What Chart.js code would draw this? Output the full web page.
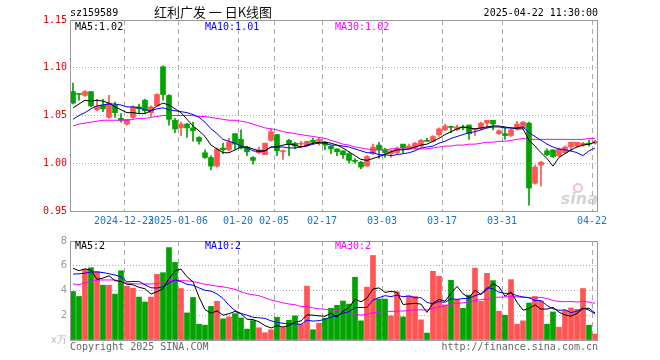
<!DOCTYPE html>
<html>
<head>
<meta charset="utf-8">
<script src="https://cdn.jsdelivr.net/npm/chart.js@4.4.1/dist/chart.umd.min.js"></script>
<style>
    body { margin: 0; background: #fff; }
    #wrap { position: relative; width: 660px; height: 360px; }
    canvas { position: absolute; left: 0; }
</style>
</head>
<body>
<div id="wrap">
    <canvas id="kline" width="660" height="232" style="top:0"></canvas>
    <canvas id="vol" width="660" height="128" style="top:232px"></canvas>
</div>
<script>
// trading days shown on the chart
const dates = [
    '2024-12-10','2024-12-11','2024-12-12','2024-12-13','2024-12-16','2024-12-17','2024-12-18','2024-12-19','2024-12-20','2024-12-23',
    '2024-12-24','2024-12-25','2024-12-26','2024-12-27','2024-12-30','2024-12-31','2025-01-02','2025-01-03','2025-01-06','2025-01-07',
    '2025-01-08','2025-01-09','2025-01-10','2025-01-13','2025-01-14','2025-01-15','2025-01-16','2025-01-17','2025-01-20','2025-01-21',
    '2025-01-22','2025-01-23','2025-01-24','2025-01-27','2025-02-05','2025-02-06','2025-02-07','2025-02-10','2025-02-11','2025-02-12',
    '2025-02-13','2025-02-14','2025-02-17','2025-02-18','2025-02-19','2025-02-20','2025-02-21','2025-02-24','2025-02-25','2025-02-26',
    '2025-02-27','2025-02-28','2025-03-03','2025-03-04','2025-03-05','2025-03-06','2025-03-07','2025-03-10','2025-03-11','2025-03-12',
    '2025-03-13','2025-03-14','2025-03-17','2025-03-18','2025-03-19','2025-03-20','2025-03-21','2025-03-24','2025-03-25','2025-03-26',
    '2025-03-27','2025-03-28','2025-03-31','2025-04-01','2025-04-02','2025-04-03','2025-04-07','2025-04-08','2025-04-09','2025-04-10',
    '2025-04-11','2025-04-14','2025-04-15','2025-04-16','2025-04-17','2025-04-18','2025-04-21','2025-04-22'
];
const tickDates = ['2024-12-23','2025-01-06','2025-01-20','2025-02-05','2025-02-17','2025-03-03','2025-03-17','2025-03-31','2025-04-22'];
const tickTexts = ['2024-12-23','2025-01-06','01-20','02-05','02-17','03-03','03-17','03-31','04-22'];

const open = [
    1.075,1.0725,1.071,1.075,1.056,1.061,1.048,1.061,1.047,1.041,
    1.048,1.059,1.066,1.053,1.060,1.101,1.071,1.045,1.037,1.041,
    1.037,1.027,1.011,1.006,0.997,1.016,1.014,1.031,1.025,1.017,
    1.006,1.011,1.009,1.024,1.030,1.012,1.024,1.021,1.020,1.019,
    1.024,1.023,1.022,1.018,1.015,1.013,1.010,1.003,1.001,0.997,
    1.010,1.019,1.014,1.010,1.011,1.020,1.015,1.016,1.018,1.024,
    1.023,1.030,1.035,1.038,1.035,1.038,1.040,1.035,1.036,1.042,
    1.045,1.031,1.031,1.029,1.036,1.037,1.042,0.979,0.998,1.013,
    1.014,1.008,1.011,1.017,1.018,1.019,1.021,1.021
];
const high = [
    1.084,1.073,1.076,1.075,1.067,1.067,1.071,1.064,1.052,1.046,
    1.060,1.062,1.067,1.060,1.073,1.102,1.072,1.047,1.043,1.042,
    1.043,1.028,1.014,1.008,1.016,1.021,1.026,1.031,1.035,1.018,
    1.007,1.017,1.021,1.036,1.030,1.014,1.025,1.022,1.023,1.023,
    1.026,1.026,1.023,1.018,1.015,1.013,1.011,1.005,1.002,1.008,
    1.020,1.022,1.016,1.014,1.017,1.020,1.020,1.022,1.025,1.026,
    1.029,1.037,1.041,1.039,1.040,1.040,1.040,1.036,1.043,1.045,
    1.045,1.035,1.037,1.036,1.044,1.044,1.043,0.998,1.002,1.015,
    1.014,1.016,1.018,1.022,1.022,1.022,1.024,1.024
];
const low = [
    1.062,1.066,1.070,1.059,1.055,1.054,1.047,1.048,1.043,1.040,
    1.047,1.053,1.053,1.049,1.060,1.066,1.040,1.032,1.029,1.027,
    1.023,1.020,1.005,0.993,0.996,1.010,1.013,1.014,1.015,1.008,
    0.999,1.010,1.009,1.023,1.008,1.004,1.008,1.015,1.017,1.018,
    1.020,1.019,1.014,1.010,1.008,1.005,1.000,1.000,0.994,0.997,
    1.009,1.005,1.006,1.006,1.010,1.011,1.015,1.015,1.017,1.023,
    1.022,1.028,1.034,1.032,1.034,1.035,1.025,1.029,1.035,1.037,
    1.035,1.030,1.025,1.028,1.035,1.036,0.956,0.978,0.976,1.008,
    1.006,1.007,1.010,1.012,1.017,1.018,1.018,1.020
];
const close = [
    1.063,1.072,1.075,1.060,1.060,1.057,1.063,1.053,1.045,1.046,
    1.059,1.057,1.055,1.059,1.072,1.072,1.046,1.036,1.041,1.037,
    1.034,1.023,1.006,0.997,1.015,1.014,1.022,1.020,1.016,1.012,
    1.003,1.014,1.021,1.033,1.013,1.013,1.020,1.018,1.021,1.023,
    1.022,1.025,1.019,1.015,1.012,1.009,1.003,1.002,0.996,1.007,
    1.017,1.014,1.011,1.013,1.016,1.016,1.018,1.021,1.024,1.023,
    1.028,1.036,1.039,1.0375,1.038,1.037,1.031,1.0355,1.042,1.045,
    1.041,1.034,1.029,1.035,1.041,1.043,0.974,0.996,1.001,1.009,
    1.007,1.015,1.017,1.022,1.022,1.021,1.020,1.023
];

// moving averages
const ma5 = [
    1.058,1.062,1.066,1.065,1.066,1.065,1.063,1.059,1.056,1.053,
    1.053,1.052,1.052,1.055,1.060,1.063,1.061,1.057,1.053,1.046,
    1.039,1.034,1.028,1.019,1.015,1.011,1.011,1.014,1.017,1.017,
    1.015,1.013,1.013,1.017,1.017,1.019,1.020,1.019,1.017,1.019,
    1.021,1.022,1.022,1.021,1.019,1.016,1.012,1.008,1.004,1.003,
    1.005,1.007,1.009,1.012,1.014,1.014,1.015,1.017,1.019,1.020,
    1.023,1.026,1.030,1.033,1.036,1.038,1.037,1.036,1.037,1.038,
    1.039,1.039,1.038,1.037,1.036,1.036,1.024,1.018,1.011,1.005,
    0.997,1.006,1.010,1.014,1.017,1.019,1.020,1.022
];
const ma10 = [
    1.046,1.050,1.053,1.057,1.060,1.061,1.062,1.062,1.061,1.059,
    1.059,1.058,1.056,1.055,1.057,1.058,1.056,1.055,1.054,1.053,
    1.051,1.048,1.043,1.036,1.031,1.025,1.023,1.021,1.018,1.016,
    1.013,1.012,1.013,1.017,1.017,1.017,1.016,1.016,1.017,1.018,
    1.020,1.021,1.021,1.019,1.019,1.018,1.017,1.015,1.013,1.011,
    1.011,1.009,1.009,1.008,1.009,1.010,1.011,1.013,1.016,1.017,
    1.018,1.021,1.023,1.026,1.028,1.030,1.032,1.033,1.035,1.037,
    1.038,1.038,1.037,1.037,1.037,1.038,1.032,1.028,1.024,1.020,
    1.017,1.015,1.014,1.013,1.011,1.008,1.013,1.016
];
const ma30 = [
    1.039,1.041,1.042,1.043,1.044,1.045,1.045,1.045,1.045,1.045,
    1.046,1.047,1.047,1.048,1.049,1.050,1.050,1.050,1.050,1.050,
    1.050,1.049,1.049,1.048,1.047,1.046,1.045,1.045,1.044,1.043,
    1.041,1.039,1.037,1.036,1.035,1.033,1.032,1.031,1.030,1.029,
    1.028,1.027,1.026,1.024,1.022,1.020,1.019,1.017,1.016,1.015,
    1.014,1.014,1.014,1.015,1.015,1.015,1.015,1.015,1.015,1.015,
    1.016,1.017,1.018,1.018,1.019,1.019,1.020,1.020,1.021,1.022,
    1.022,1.023,1.023,1.024,1.025,1.026,1.025,1.025,1.025,1.025,
    1.025,1.025,1.025,1.025,1.025,1.025,1.026,1.026
];

// volume, in 万
const volume = [
    3.92,3.52,5.71,5.84,5.52,4.43,4.43,3.71,5.60,4.35,
    4.19,3.47,3.07,3.47,5.31,5.44,7.47,6.27,4.16,2.19,
    3.44,1.28,1.20,2.72,3.12,1.71,1.87,2.13,1.79,0.88,
    1.57,0.99,0.59,0.83,1.84,1.01,1.60,1.95,1.28,4.35,
    0.83,1.36,1.76,2.56,2.80,3.15,2.90,5.07,1.55,4.27,
    6.83,3.31,3.31,1.95,3.89,1.87,3.57,3.52,1.63,0.56,
    5.55,5.15,2.83,4.83,3.28,2.56,3.63,5.81,3.12,5.39,
    4.80,2.32,2.00,4.88,1.28,1.55,2.99,3.52,3.15,1.28,
    2.27,1.04,2.40,2.59,2.48,4.16,1.20,0.48
];
const volMa5 = [
    5.80,5.60,5.75,5.65,4.90,5.00,5.19,4.79,4.74,4.50,
    4.46,4.26,4.14,3.71,3.90,4.15,4.95,5.59,5.73,5.11,
    4.71,3.47,2.45,2.17,2.35,2.01,2.12,2.31,2.12,1.68,
    1.65,1.47,1.16,0.97,1.16,1.05,1.17,1.45,1.54,2.04,
    2.00,1.95,1.92,2.17,1.86,2.33,2.63,3.30,3.09,3.39,
    4.12,4.21,3.85,3.93,3.86,2.87,2.92,2.96,2.90,2.23,
    2.97,3.28,3.14,3.78,4.33,3.73,3.43,4.02,3.68,4.10,
    4.55,4.29,3.53,3.88,3.06,2.41,2.54,2.84,2.50,2.50,
    2.64,2.25,2.03,1.92,2.16,2.53,2.57,2.18
];
const volMa10 = [
    5.33,5.35,5.40,5.50,5.50,5.45,5.35,5.25,5.10,4.70,
    4.73,4.73,4.46,4.22,4.20,4.30,4.61,4.86,4.72,4.50,
    4.43,4.21,4.02,3.95,3.73,3.36,2.80,2.38,2.15,2.01,
    1.83,1.80,1.74,1.55,1.42,1.35,1.32,1.31,1.25,1.60,
    1.53,1.56,1.68,1.85,1.95,2.16,2.29,2.61,2.63,2.63,
    3.23,3.42,3.58,3.51,3.62,3.50,3.56,3.41,3.42,3.04,
    2.92,3.10,3.05,3.34,3.28,3.35,3.35,3.58,3.73,4.22,
    4.14,3.86,3.77,3.78,3.58,3.48,3.41,3.19,3.19,2.78,
    2.52,2.40,2.44,2.21,2.33,2.59,2.41,2.11
];
const volMa30 = [
    4.53,4.46,4.62,4.75,4.85,4.85,4.85,4.85,4.75,4.60,
    4.55,4.53,4.53,4.53,4.55,4.70,4.80,4.82,4.80,4.78,
    4.72,4.62,4.50,4.43,4.35,4.30,4.20,4.10,3.90,3.74,
    3.66,3.58,3.41,3.24,3.12,3.00,2.91,2.85,2.71,2.71,
    2.59,2.52,2.48,2.45,2.37,2.29,2.14,2.10,2.01,2.08,
    2.19,2.26,2.33,2.31,2.33,2.34,2.39,2.44,2.43,2.42,
    2.56,2.69,2.77,2.90,2.95,3.00,3.07,3.20,3.26,3.29,
    3.43,3.46,3.47,3.54,3.49,3.44,3.44,3.39,3.45,3.35,
    3.19,3.12,3.09,3.11,3.06,3.14,3.06,2.96
];

const UP = '#ff5555';
const DOWN = '#00a300';
const GRID = '#aaaaaa';
const MONO = '"DejaVu Sans Mono", monospace';

Chart.defaults.font.family = MONO;
Chart.defaults.font.size = 10;
Chart.defaults.animation = false;

const barColors = close.map((c, i) => c > open[i] ? UP : DOWN);

function markText(i) {
    const k = tickDates.indexOf(dates[i]);
    return k < 0 ? '' : tickTexts[k];
}
function markGrid(c) {
    return markText(c.index) ? GRID : 'rgba(0,0,0,0)';
}

function maLine(data, color) {
    return {
        type: 'line', data: data, borderColor: color, borderWidth: 1,
        pointRadius: 0, tension: 0, fill: false, order: 0
    };
}

// frame round the plot area
const frame = {
    id: 'frame',
    afterDatasetsDraw(chart) {
        const a = chart.chartArea;
        const ctx = chart.ctx;
        ctx.save();
        ctx.strokeStyle = '#999';
        ctx.lineWidth = 1;
        ctx.strokeRect(Math.round(a.left) + 0.5, Math.round(a.top) + 0.5,
            Math.round(a.right - a.left) - 1, Math.round(a.bottom - a.top));
        ctx.restore();
    }
};

function text(ctx, s, x, y, color, align, font) {
    ctx.font = font || ('10px ' + MONO);
    ctx.fillStyle = color;
    ctx.textAlign = align || 'left';
    ctx.textBaseline = 'middle';
    ctx.fillText(s, x, y);
}

const klineText = {
    id: 'klineText',
    beforeDatasetsDraw(chart) {
        const ctx = chart.ctx;
        ctx.save();
        // sina watermark
        ctx.strokeStyle = '#f2c4c4';
        ctx.lineWidth = 2;
        ctx.beginPath();
        ctx.arc(578, 188, 4, 0, Math.PI * 2);
        ctx.stroke();
        text(ctx, 'sina', 598, 200, '#d4d4d4', 'right', 'italic bold 16px "DejaVu Sans"');
        ctx.restore();
    },
    afterDraw(chart) {
        const ctx = chart.ctx;
        ctx.save();
        text(ctx, 'sz159589', 70, 13, '#000');
        text(ctx, '2025-04-22 11:30:00', 598, 13, '#000', 'right');
        text(ctx, '红利广发 一 日K线图', 213, 12, '#111', 'center', '13px "Noto Sans CJK SC"');
        text(ctx, 'MA5:1.02', 75, 27, '#000');
        text(ctx, 'MA10:1.01', 205, 27, '#0000ff');
        text(ctx, 'MA30:1.02', 335, 27, '#ff00ff');
        ctx.restore();
    }
};

const volText = {
    id: 'volText',
    afterDraw(chart) {
        const ctx = chart.ctx;
        ctx.save();
        text(ctx, 'MA5:2', 75, 14, '#000');
        text(ctx, 'MA10:2', 205, 14, '#0000ff');
        text(ctx, 'MA30:2', 335, 14, '#ff00ff');
        text(ctx, 'Copyright 2025 SINA.COM', 70, 115, '#666');
        text(ctx, 'http://finance.sina.com.cn', 598, 115, '#666', 'right');
        ctx.restore();
    }
};

new Chart(document.getElementById('kline'), {
    type: 'bar',
    data: {
        labels: dates,
        datasets: [
            maLine(ma5, '#000000'),
            maLine(ma10, '#0000ff'),
            maLine(ma30, '#ff00ff'),
            {
                data: open.map((o, i) => [o, close[i]]),
                backgroundColor: barColors,
                barThickness: 5, minBarLength: 1, grouped: false, order: 1
            },
            {
                data: low.map((l, i) => [l, high[i]]),
                backgroundColor: barColors,
                barThickness: 1, grouped: false, order: 2
            }
        ]
    },
    options: {
        responsive: false,
        events: [],
        layout: { padding: { left: 0, right: 62, top: 20, bottom: 0 } },
        plugins: { legend: { display: false }, tooltip: { enabled: false } },
        scales: {
            x: {
                offset: true,
                grid: { color: markGrid, drawTicks: false, offset: true },
                border: { display: false, dash: [5, 4] },
                ticks: {
                    autoSkip: false, maxRotation: 0, minRotation: 0,
                    labelOffset: -3, padding: 4, color: '#1874cd',
                    callback: (v, i) => markText(i)
                },
                afterFit: s => { s.height = 21; }
            },
            y: {
                min: 0.95, max: 1.15,
                grid: {
                    drawTicks: false,
                    color: c => (c.tick && c.tick.value > 0.96 && c.tick.value < 1.14) ? GRID : 'rgba(0,0,0,0)'
                },
                border: { display: false, dash: [1, 2] },
                ticks: { stepSize: 0.05, padding: 3, color: '#e60000', callback: v => v.toFixed(2) },
                afterFit: s => { s.width = 70; }
            }
        }
    },
    plugins: [frame, klineText]
});

new Chart(document.getElementById('vol'), {
    type: 'bar',
    data: {
        labels: dates,
        datasets: [
            maLine(volMa5, '#000000'),
            maLine(volMa10, '#0000ff'),
            maLine(volMa30, '#ff00ff'),
            { data: volume, backgroundColor: barColors, barThickness: 5, order: 1 }
        ]
    },
    options: {
        responsive: false,
        events: [],
        layout: { padding: { left: 0, right: 62, top: 8, bottom: 0 } },
        plugins: { legend: { display: false }, tooltip: { enabled: false } },
        scales: {
            x: {
                offset: true,
                grid: { color: markGrid, drawTicks: false, offset: true },
                border: { display: false, dash: [5, 4] },
                ticks: { display: false },
                afterFit: s => { s.height = 20; }
            },
            y: {
                min: 0, max: 8,
                grid: {
                    drawTicks: false,
                    color: c => (c.tick && c.tick.value > 0 && c.tick.value < 8) ? GRID : 'rgba(0,0,0,0)'
                },
                border: { display: false, dash: [1, 2] },
                ticks: {
                    stepSize: 2, padding: 3,
                    color: c => c.tick && c.tick.value === 0 ? '#bbbbbb' : '#999999',
                    font: { family: '"DejaVu Sans", sans-serif', size: 10 },
                    callback: v => v === 0 ? 'x万' : v
                },
                afterFit: s => { s.width = 70; }
            }
        }
    },
    plugins: [frame, volText]
});
</script>
</body>
</html>
